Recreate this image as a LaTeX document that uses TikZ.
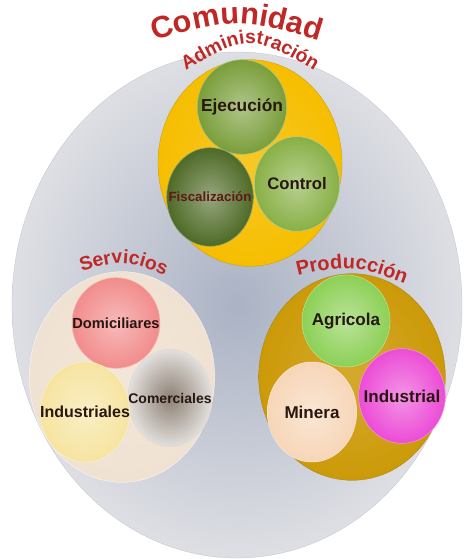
\documentclass[tikz,border=0pt]{standalone}
\usepackage{fontspec}
\setmainfont{Liberation Sans}
\usetikzlibrary{shapes.geometric, decorations.text}
\definecolor{labred}{RGB}{192,40,38}
\definecolor{greyout}{RGB}{222,223,228}
\definecolor{greyin}{RGB}{170,178,196}
\definecolor{admyellow}{RGB}{246,190,0}
\definecolor{servcream}{RGB}{240,226,210}
\definecolor{prodgold}{RGB}{204,154,8}
\definecolor{ejecgreen}{RGB}{122,158,58}
\definecolor{fiscgreen}{RGB}{78,106,38}
\definecolor{ctrlgreen}{RGB}{136,176,70}
\definecolor{domipink}{RGB}{242,140,140}
\definecolor{induyellow}{RGB}{246,228,160}
\definecolor{comegrey}{RGB}{140,128,116}
\definecolor{agrigreen}{RGB}{140,208,86}
\definecolor{minepeach}{RGB}{247,214,184}
\definecolor{indumag}{RGB}{236,76,214}
\definecolor{txtdark}{RGB}{40,22,16}
\definecolor{fisctxt}{RGB}{96,24,24}
\newcommand{\lblfont}[1]{\fontsize{#1}{#1}\selectfont\bfseries\color{labred}}
\newcommand{\zw}[1]{\makebox[0pt]{#1}}

\begin{document}
\begin{tikzpicture}[
    x=0.75pt, y=-0.75pt,
    area/.style={ellipse, inner sep=0pt, draw=#1!80!black, very thin,
                 inner color=#1!85!white, outer color=#1},
    bub/.style={ellipse, inner sep=0pt, align=center, text=txtdark,
                draw=#1!60!white, thin, inner color=#1!60!white, outer color=#1},
    fs/.style={font=\bfseries\fontsize{#1}{#1}\selectfont},
  ]
    \fill[white] (0,0) rectangle (464,559);
    \useasboundingbox (0,0) rectangle (464,559);

    % outer community
    \node[ellipse, inner sep=0pt, draw=greyout!85!black, very thin,
          inner color=greyin, outer color=greyout,
          minimum width=337.5pt, minimum height=379.5pt] (comunidad) at (237,305) {};

    % the three groups
    \node[area=admyellow, minimum width=138pt, minimum height=155pt] (admin) at (250,163) {};
    \node[area=servcream, draw=white, minimum width=139pt, minimum height=158pt] (servicios) at (122,377) {};
    \node[area=prodgold, minimum width=140pt, minimum height=155pt] (produccion) at (352,377) {};

    % Administracion
    \node[bub=ejecgreen, fs=13, minimum width=67pt, minimum height=71pt] (ejec) at (242,107) {\zw{Ejecución}};
    \node[bub=fiscgreen, fs=10, text=fisctxt, minimum width=65pt, minimum height=74pt] (fisc) at (210,197) {\zw{Fiscalización}};
    \node[bub=ctrlgreen, fs=12.5, minimum width=64pt, minimum height=71pt] (ctrl) at (297,184) {\zw{Control}};

    % Servicios
    \node[bub=domipink, fs=11, minimum width=66pt, minimum height=68pt] (domi) at (116,323) {\zw{Domiciliares}};
    \node[bub=comegrey, inner color=comegrey, outer color=comegrey!25!white,
          draw=comegrey!30!white, fs=10.5, minimum width=63pt, minimum height=73pt] (come) at (170,398) {\zw{Comerciales}};
    \node[bub=induyellow, fs=12, minimum width=67pt, minimum height=75pt] (indus) at (85,412) {\zw{Industriales}};

    % Produccion
    \node[bub=agrigreen, fs=12.8, minimum width=66pt, minimum height=69pt] (agri) at (346,321) {\zw{Agricola}};
    \node[bub=minepeach, fs=12.8, minimum width=67pt, minimum height=75pt] (mine) at (312,412) {\zw{Minera}};
    \node[bub=indumag, fs=12.8, minimum width=65pt, minimum height=71pt] (indu) at (402,396) {\zw{Industrial}};

    % arched titles
    \path[decorate, decoration={text along path, text align=center,
          text={|\lblfont{23}|Comunidad}}]
      (130,48.6) .. controls (237,15.4) .. (344,48.6);
    \path[decorate, decoration={text along path, text align=center,
          text={|\lblfont{14.5}|Administración}}]
      (165,83.6) .. controls (250,30.4) .. (335,83.6);
    \path[decorate, decoration={text along path, text align=center,
          text={|\lblfont{14.5}|Servicios}}]
      (63,278) .. controls (123,257.5) .. (183,283);
    \path[decorate, decoration={text along path, text align=center,
          text={|\lblfont{15}|Producción}}]
      (281,280) .. controls (351,263) .. (421,290);
  \end{tikzpicture}
\end{document}
